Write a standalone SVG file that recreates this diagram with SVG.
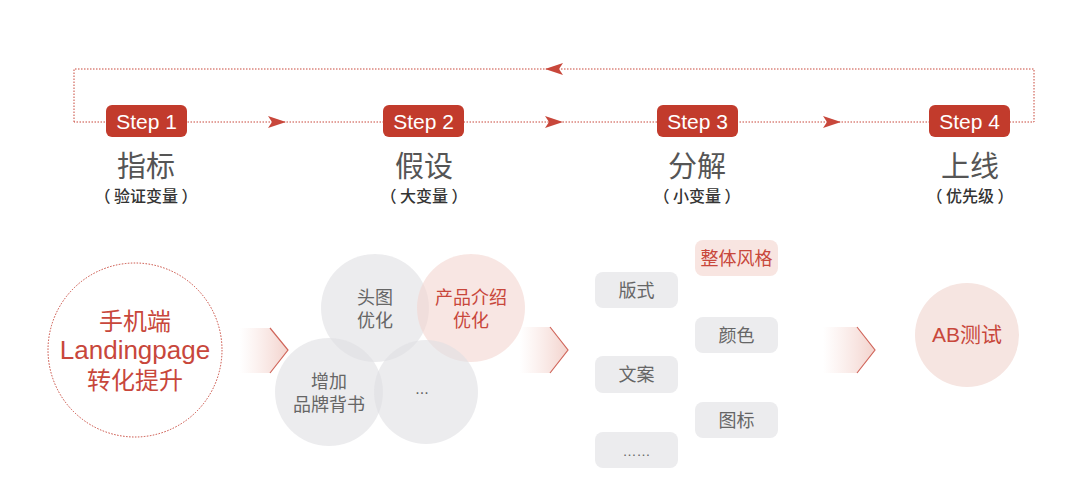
<svg xmlns="http://www.w3.org/2000/svg" width="1080" height="486" viewBox="0 0 1080 486">
<defs>
<style>
.dot{fill:none;stroke:#c8473b;stroke-width:1;stroke-dasharray:1.5 1.5}
.badge{fill:#c23b2c}
.btxt{fill:#fff;font-family:"Liberation Sans",Arial,sans-serif;font-size:21px;text-anchor:middle}
.title{fill:#555;font-family:"Noto Sans CJK SC",sans-serif;font-size:29px;text-anchor:middle}
.sub{fill:#333;font-family:"Noto Sans CJK SC",sans-serif;font-size:16px;font-weight:500;text-anchor:middle}
.cj{font-family:"Liberation Sans","Noto Sans CJK SC",sans-serif;text-anchor:middle}
.red{fill:#c8473b}
.gray{fill:#666}
.vg{fill:#e0e0e3;fill-opacity:0.6}
.vp{fill:#f3d6d1;fill-opacity:0.6}
.box{fill:#ececee}
.boxp{fill:#f8e5e1}
.chev{fill:none;stroke:#d0665b;stroke-width:1.2}
</style>
<linearGradient id="g" x1="0" x2="1" y1="0" y2="0">
<stop offset="0" stop-color="#f6dcd7" stop-opacity="0"/>
<stop offset="1" stop-color="#f3d3cd"/>
</linearGradient>
<path id="ah" d="M-9,-6 L9,0 L-9,6 L-5,0 Z" fill="#c8473b"/>
</defs>
<rect width="1080" height="486" fill="#fff"/>
<g id="connectors">
<path class="dot" d="M74,122 L74,69 L1034,69 L1034,122 L74,122"/>
<use href="#ah" transform="translate(554,69) rotate(180)"/>
<use href="#ah" transform="translate(277,122)"/>
<use href="#ah" transform="translate(554,122)"/>
<use href="#ah" transform="translate(832,122)"/>
</g>
<g id="step1">
<rect class="badge" x="106" y="105" width="81" height="32" rx="6"/>
<text class="btxt" x="146.5" y="128.5">Step 1</text>
<text class="title" x="146" y="177">指标</text>
<text class="sub" x="146" y="202">（ 验证变量 ）</text>
</g>
<g id="step2">
<rect class="badge" x="383" y="105" width="81" height="32" rx="6"/>
<text class="btxt" x="423.5" y="128.5">Step 2</text>
<text class="title" x="424" y="177">假设</text>
<text class="sub" x="424" y="202">（ 大变量 ）</text>
</g>
<g id="step3">
<rect class="badge" x="657" y="105" width="81" height="32" rx="6"/>
<text class="btxt" x="697.5" y="128.5">Step 3</text>
<text class="title" x="697" y="177">分解</text>
<text class="sub" x="697" y="202">（ 小变量 ）</text>
</g>
<g id="step4">
<rect class="badge" x="929" y="105" width="81" height="32" rx="6"/>
<text class="btxt" x="969.5" y="128.5">Step 4</text>
<text class="title" x="970" y="177">上线</text>
<text class="sub" x="970" y="202">（ 优先级 ）</text>
</g>
<g id="goal">
<circle cx="135" cy="350" r="87" fill="#fff" class="dot"/>
<text class="cj red" font-size="24" x="135" y="330">手机端</text>
<text class="cj red" font-size="26" x="135" y="359">Landingpage</text>
<text class="cj red" font-size="24" x="135" y="389">转化提升</text>
</g>
<g id="arrow1">
<path d="M240,328 L270,328 L288,350 L270,373 L240,373 Z" fill="url(#g)"/>
<path class="chev" d="M270,328 L288,350 L270,373"/>
</g>
<g id="venn">
<circle class="vg" cx="375" cy="308" r="54"/>
<circle class="vp" cx="471" cy="308" r="54"/>
<circle class="vg" cx="329" cy="392" r="54"/>
<circle class="vg" cx="426" cy="392" r="52"/>
<text class="cj gray" font-size="18" x="375" y="304">头图</text>
<text class="cj gray" font-size="18" x="375" y="327">优化</text>
<text class="cj red" font-size="18" x="471" y="304">产品介绍</text>
<text class="cj red" font-size="18" x="471" y="327">优化</text>
<text class="cj gray" font-size="18" x="329" y="388">增加</text>
<text class="cj gray" font-size="18" x="329" y="411">品牌背书</text>
<text class="cj gray" font-size="16" x="422" y="394">...</text>
</g>
<g id="arrow2">
<path d="M520,327 L550,327 L568,350 L550,373 L520,373 Z" fill="url(#g)"/>
<path class="chev" d="M550,327 L568,350 L550,373"/>
</g>
<g id="boxes">
<rect class="box" x="595" y="272" width="83" height="36" rx="8"/>
<text class="cj gray" font-size="18" x="636.5" y="296.5">版式</text>
<rect class="box" x="595" y="356" width="83" height="37" rx="8"/>
<text class="cj gray" font-size="18" x="636.5" y="381">文案</text>
<rect class="box" x="595" y="432" width="83" height="36" rx="8"/>
<text class="cj gray" font-size="14" x="636.5" y="456">……</text>
<rect class="boxp" x="695" y="240" width="83" height="36" rx="8"/>
<text class="cj red" font-size="18" x="736.5" y="264.5">整体风格</text>
<rect class="box" x="695" y="317" width="83" height="36" rx="8"/>
<text class="cj gray" font-size="18" x="736.5" y="341.5">颜色</text>
<rect class="box" x="695" y="402" width="83" height="36" rx="8"/>
<text class="cj gray" font-size="18" x="736.5" y="426.5">图标</text>
</g>
<g id="arrow3">
<path d="M823,327 L857,327 L875,350 L857,373 L823,373 Z" fill="url(#g)"/>
<path class="chev" d="M857,327 L875,350 L857,373"/>
</g>
<g id="abtest">
<circle cx="967" cy="335" r="52" fill="#f6e5e1"/>
<text class="cj red" font-size="21" x="967" y="342">AB测试</text>
</g>
</svg>
